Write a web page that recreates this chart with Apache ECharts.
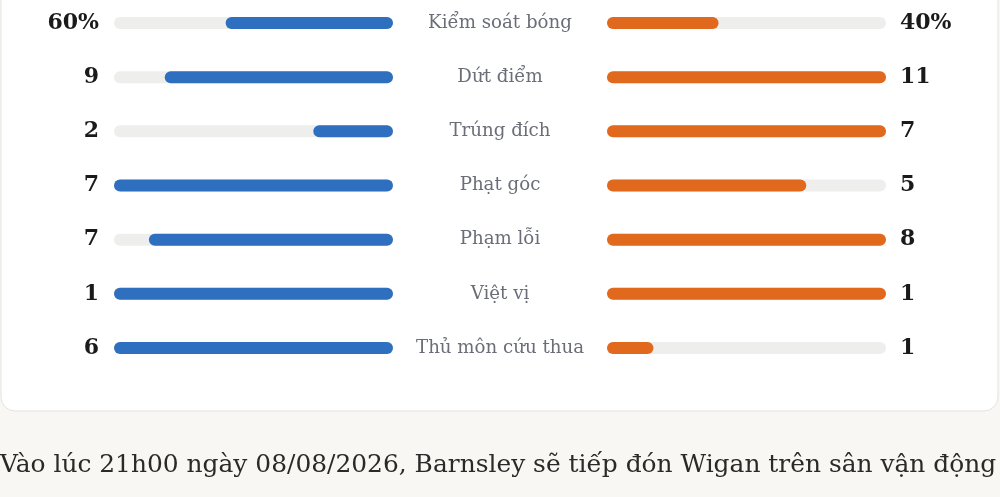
<!DOCTYPE html>
<html>
<head>
<meta charset="utf-8">
<script src="https://cdn.jsdelivr.net/npm/echarts@6/dist/echarts.min.js"></script>
<style>
html,body{margin:0;padding:0;background:#f8f7f3;}
#c{width:1000px;height:497px;}
</style>
</head>
<body>
<div id="c"></div>
<script>
var categories = ['Kiểm soát bóng','Dứt điểm','Trúng đích','Phạt góc','Phạm lỗi','Việt vị','Thủ môn cứu thua'];
var homeValues = [60, 9, 2, 7, 7, 1, 6];
var awayValues = [40, 11, 7, 5, 8, 1, 1];
var valueSuffix = ['%', '', '', '', '', '', ''];
var paragraph = 'Vào lúc 21h00 ngày 08/08/2026, Barnsley sẽ tiếp đón Wigan trên sân vận động';

var BLUE = '#2f6fbf', ORANGE = '#e0691d', TRACK = '#eeeeec';
var serif = '"DejaVu Serif", "Liberation Serif", serif';

function rowMax(i){ return valueSuffix[i] === '%' ? 100 : Math.max(homeValues[i], awayValues[i]); }
var homeRatio = homeValues.map(function(v,i){ return v / rowMax(i); });
var awayRatio = awayValues.map(function(v,i){ return v / rowMax(i); });
var homeLabels = homeValues.map(function(v,i){ return v + valueSuffix[i]; });
var awayLabels = awayValues.map(function(v,i){ return v + valueSuffix[i]; });

var chart = echarts.init(document.getElementById('c'), null, {renderer:'canvas'});
var rowTop = 23, rowBottom = 348;
var baseY = {type:'category', inverse:true, boundaryGap:false,
  axisLine:{show:false}, axisTick:{show:false}, splitLine:{show:false}};

chart.setOption({
  backgroundColor:'#f8f7f3',
  animation:false,
  graphic:[
    {type:'rect', z:-10, shape:{x:1, y:-30, width:997, height:441, r:14},
     style:{fill:'#ffffff', stroke:'#e3e3e0', lineWidth:1}},
    {type:'text', left:0, top:453, z:5,
     style:{text:paragraph, font:'24.9px ' + serif, fill:'#2a2a2a'}}
  ],
  grid:[
    {left:114, width:279, top:rowTop, height:rowBottom-rowTop},
    {left:607, width:279, top:rowTop, height:rowBottom-rowTop}
  ],
  xAxis:[
    {gridIndex:0, type:'value', min:0, max:1, inverse:true, show:false},
    {gridIndex:1, type:'value', min:0, max:1, show:false}
  ],
  yAxis:[
    Object.assign({}, baseY, {gridIndex:0, position:'left', data:homeLabels,
      axisLabel:{margin:15, align:'right', fontFamily:serif, fontWeight:'bold', fontSize:22, color:'#1a1a1a'}}),
    Object.assign({}, baseY, {gridIndex:0, position:'right', data:categories,
      axisLabel:{margin:107, align:'center', fontFamily:serif, fontSize:18.2, color:'#6b6e78'}}),
    Object.assign({}, baseY, {gridIndex:1, position:'right', data:awayLabels,
      axisLabel:{margin:14, align:'left', fontFamily:serif, fontWeight:'bold', fontSize:22, color:'#1a1a1a'}})
  ],
  series:[
    {type:'bar', xAxisIndex:0, yAxisIndex:0, data:homeRatio, barWidth:12,
     itemStyle:{color:BLUE, borderRadius:6},
     showBackground:true, backgroundStyle:{color:TRACK, borderRadius:6}},
    {type:'bar', xAxisIndex:1, yAxisIndex:2, data:awayRatio, barWidth:12,
     itemStyle:{color:ORANGE, borderRadius:6},
     showBackground:true, backgroundStyle:{color:TRACK, borderRadius:6}}
  ]
});
</script>
</body>
</html>
